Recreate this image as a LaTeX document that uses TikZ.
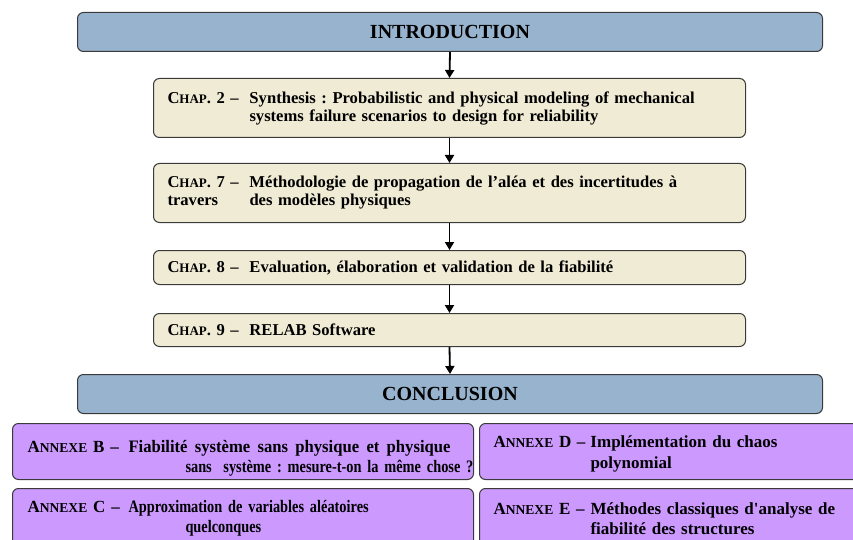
\documentclass[tikz,border=0pt]{standalone}
\usepackage{fontspec}
\setmainfont{Liberation Serif}
\newfontfamily\condfont{Liberation Serif}[FakeStretch=0.82]
\newfontfamily\semicondfont{Liberation Serif}[FakeStretch=0.95]
\usetikzlibrary{arrows.meta}
\definecolor{hdr}{HTML}{97B3CD}
\definecolor{chp}{HTML}{F0EBD5}
\definecolor{anx}{HTML}{CC99FF}
\definecolor{edgec}{HTML}{3A3A3A}
\newcommand\smcp[1]{{\fontsize{13pt}{13pt}\selectfont #1}}
\newcommand\smcd[1]{{\fontsize{13.6pt}{13.6pt}\selectfont #1}}
\newcommand\anxlabel[1]{{\rmfamily\fontsize{17pt}{17pt}\selectfont A\smcd{NNEXE} #1 –}}
\frenchspacing
\begin{document}
\begin{tikzpicture}[x=1pt,y=-1pt,
  boxbase/.style={draw=edgec, line width=1pt, rounded corners=6pt, anchor=north west},
  hdrbox/.style={boxbase, fill=hdr, inner sep=0pt, font=\fontsize{20pt}{22pt}\bfseries\selectfont},
  chapbox/.style={boxbase, fill=chp, inner xsep=14pt, inner ysep=0pt, align=left,
    font=\fontsize{16.6pt}{18pt}\bfseries\selectfont},
  anxbc/.style={boxbase, fill=anx, inner xsep=15pt, inner ysep=0pt, align=left,
    font=\condfont\fontsize{17.5pt}{20pt}\bfseries\selectfont},
  anxde/.style={boxbase, fill=anx, inner xsep=14pt, inner ysep=0pt, align=left,
    font=\fontsize{17pt}{20.5pt}\bfseries\selectfont},
  arr/.style={line width=1.8pt, -{Triangle[length=8pt,width=9pt]}}
]
\useasboundingbox (0,0) rectangle (853,540);
\node[hdrbox, minimum width=745pt, minimum height=39pt] (intro) at (77,12) {INTRODUCTION};
\node[chapbox, minimum height=59pt, text width=564pt] (c2) at (153,78)
  {\mbox{\makebox[82pt][l]{C\smcp{HAP}. 2 –}Synthesis : Probabilistic and physical modeling of mechanical}\\
   \mbox{\hspace*{82pt}systems failure scenarios to design for reliability}};
\node[chapbox, minimum height=59pt, text width=564pt] (c7) at (153,163)
  {\mbox{\makebox[82pt][l]{C\smcp{HAP}. 7 –}Méthodologie de propagation de l’aléa et des incertitudes à}\\
   \mbox{\makebox[82pt][l]{travers}des modèles physiques}};
\node[chapbox, minimum height=34pt, text width=564pt] (c8) at (153,250)
  {\mbox{\makebox[82pt][l]{C\smcp{HAP}. 8 –}Evaluation, élaboration et validation de la fiabilité}};
\node[chapbox, minimum height=33pt, text width=564pt] (c9) at (153,313)
  {\mbox{\makebox[82pt][l]{C\smcp{HAP}. 9 –}RELAB Software}};
\node[hdrbox, minimum width=745pt, minimum height=39pt] (concl) at (77,374) {CONCLUSION};
\node[anxbc, minimum height=56pt, text width=431pt] (ab) at (12,423)
  {\mbox{\rule{0pt}{25pt}\makebox[101pt][l]{\anxlabel{B}}{\semicondfont\bfseries\hbox to 322pt{Fiabilité\ \hfil système\ \hfil sans\ \hfil physique\ \hfil et\ \hfil physique}}}\\
   \mbox{\hspace*{158pt}sans\ \ système : mesure-t-on la même chose ?}};
\node[anxbc, minimum height=60pt, text width=431pt] (ac) at (12,488)
  {\mbox{\makebox[101pt][l]{\anxlabel{C}}Approximation de variables aléatoires}\\
   \mbox{\hspace*{158pt}quelconques}};
\node[anxde, minimum height=56pt, text width=400pt] (ad) at (479,423)
  {\mbox{\rule{0pt}{17pt}\makebox[97pt][l]{\anxlabel{D}}Implémentation du chaos}\\
   \mbox{\hspace*{97pt}polynomial}};
\node[anxde, minimum height=60pt, text width=400pt] (ae) at (479,488)
  {\mbox{\makebox[97pt][l]{\anxlabel{E}}Méthodes classiques d\textquotesingle analyse de}\\
   \mbox{\hspace*{97pt}fiabilité des structures}};
\draw[arr] (intro.south) -- (c2.north);
\draw[arr] (c2.south) -- (c7.north);
\draw[arr] (c7.south) -- (c8.north);
\draw[arr] (c8.south) -- (c9.north);
\draw[arr] (c9.south) -- (concl.north);
\end{tikzpicture}
\end{document}
